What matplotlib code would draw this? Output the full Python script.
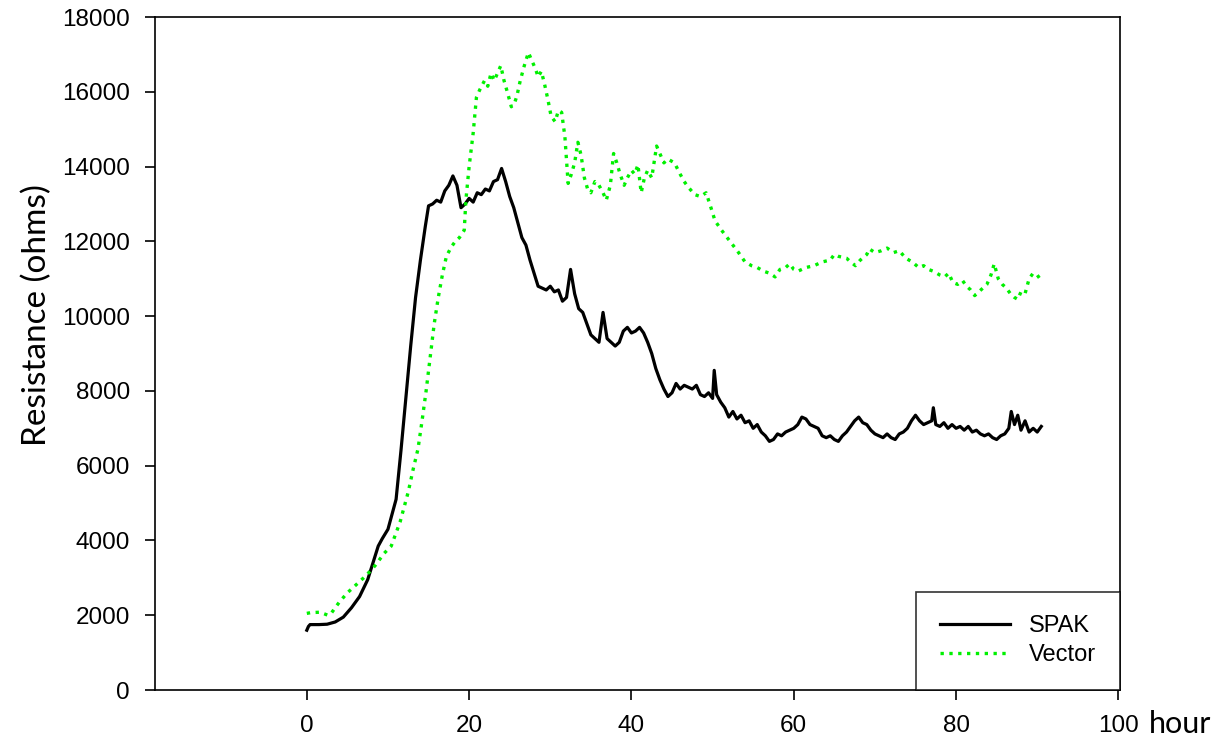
#!/usr/bin/env python3

import numpy as np
import matplotlib
matplotlib.use('Agg')
import matplotlib.pyplot as plt

# values (hour, ohms)
spak_hours = [0.0, 0.2, 0.4, 1.5, 2.5, 3.5, 4.5, 5.5, 6.5, 7.5, 8.0, 8.8, 9.3, 10.0, 10.5,
              11.0, 11.6, 12.2, 12.8, 13.4, 14.0, 14.6, 15.0, 15.5, 16.0, 16.5, 17.0, 17.5,
              18.0, 18.5, 19.0, 19.5, 20.0, 20.5, 21.0, 21.5, 22.0, 22.5, 23.0, 23.5, 24.0,
              24.5, 25.0, 25.5, 26.0, 26.5, 27.0, 27.5, 28.0, 28.5, 29.0, 29.5, 30.0, 30.5,
              31.0, 31.5, 32.0, 32.5, 33.0, 33.5, 34.0, 34.5, 35.0, 35.5, 36.0, 36.5, 37.0,
              37.5, 38.0, 38.5, 39.0, 39.5, 40.0, 40.5, 41.0, 41.5, 42.0, 42.5, 43.0, 43.5,
              44.0, 44.5, 45.0, 45.5, 46.0, 46.5, 47.0, 47.5, 48.0, 48.5, 49.0, 49.5, 50.0,
              50.2, 50.5, 51.0, 51.5, 52.0, 52.5, 53.0, 53.5, 54.0, 54.5, 55.0, 55.5, 56.0,
              56.5, 57.0, 57.5, 58.0, 58.5, 59.0, 59.5, 60.0, 60.5, 61.0, 61.5, 62.0, 62.5,
              63.0, 63.5, 64.0, 64.5, 65.0, 65.5, 66.0, 66.5, 67.0, 67.5, 68.0, 68.5, 69.0,
              69.5, 70.0, 70.5, 71.0, 71.5, 72.0, 72.5, 73.0, 73.5, 74.0, 74.5, 75.0, 75.5,
              76.0, 76.5, 77.0, 77.2, 77.5, 78.0, 78.5, 79.0, 79.5, 80.0, 80.5, 81.0, 81.5,
              82.0, 82.5, 83.0, 83.5, 84.0, 84.5, 85.0, 85.5, 86.0, 86.5, 86.8, 87.2, 87.6,
              88.0, 88.5, 89.0, 89.5, 90.0, 90.5]
spak_ohms = [1600, 1700, 1750, 1750, 1760, 1820, 1950, 2200, 2500, 2950, 3300, 3850, 4050, 4300, 4700,
             5100, 6400, 7800, 9200, 10500, 11500, 12400, 12950, 13000, 13100, 13050, 13350, 13500,
             13750, 13500, 12900, 13000, 13150, 13050, 13300, 13250, 13400, 13350, 13600, 13650, 13950,
             13600, 13200, 12900, 12500, 12100, 11900, 11500, 11150, 10800, 10750, 10700, 10800, 10650,
             10700, 10400, 10500, 11250, 10600, 10200, 10100, 9800, 9500, 9400, 9300, 10100, 9400,
             9300, 9200, 9300, 9600, 9700, 9550, 9600, 9700, 9550, 9300, 9000, 8600, 8300,
             8050, 7850, 7950, 8200, 8050, 8150, 8100, 8050, 8150, 7900, 7850, 7950, 7800,
             8550, 7900, 7700, 7550, 7300, 7450, 7250, 7350, 7150, 7200, 7000, 7100, 6900,
             6800, 6650, 6700, 6850, 6800, 6900, 6950, 7000, 7100, 7300, 7250, 7100, 7050,
             7000, 6800, 6750, 6800, 6700, 6650, 6800, 6900, 7050, 7200, 7300, 7150, 7100,
             6950, 6850, 6800, 6750, 6850, 6750, 6700, 6850, 6900, 7000, 7200, 7350, 7200,
             7100, 7150, 7200, 7550, 7100, 7050, 7150, 7000, 7100, 7000, 7050, 6950, 7050,
             6900, 6950, 6850, 6800, 6850, 6750, 6700, 6800, 6850, 7000, 7450, 7100, 7350,
             6950, 7200, 6900, 7000, 6900, 7050]

vector_hours = [0.0, 0.5, 1.5, 2.0, 2.6, 3.0, 3.5, 4.0, 5.0, 6.0, 7.0, 7.9, 8.5, 9.0, 9.5,
                10.4, 11.0, 11.5, 12.0, 12.5, 13.1, 13.7, 14.2, 14.7, 15.2, 15.7, 16.2, 16.7,
                17.2, 17.8, 18.3, 18.8, 19.4, 19.6, 20.0, 20.5, 20.9, 21.3, 21.9, 22.3, 22.7,
                23.1, 23.5, 23.9, 24.3, 24.7, 25.2, 25.6, 25.9, 26.3, 26.8, 27.3, 27.8, 28.2,
                28.5, 28.9, 29.3, 29.7, 30.1, 30.6, 31.0, 31.4, 31.8, 32.2, 32.6, 33.0, 33.4,
                33.8, 34.2, 34.6, 35.0, 35.5, 36.0, 36.5, 36.9, 37.4, 37.8, 38.2, 38.6, 39.1,
                39.5, 40.0, 40.4, 40.8, 41.2, 41.6, 42.0, 42.5, 43.1, 43.5, 44.0, 44.5, 45.3,
                46.0, 46.5, 47.0, 47.8, 48.5, 49.2, 49.5, 49.8, 50.3, 51.1, 51.8, 52.5, 53.2,
                54.0, 54.8, 55.5, 56.3, 57.0, 57.7, 58.3, 59.0, 59.5, 60.0, 60.5, 61.5, 62.5,
                63.5, 64.5, 65.0, 65.5, 66.5, 67.0, 67.6, 68.2, 69.0, 69.3, 70.0, 70.8, 71.5,
                72.3, 73.0, 73.8, 74.6, 75.4, 76.0, 76.6, 77.2, 78.0, 78.6, 79.1, 79.6, 80.2,
                80.8, 81.3, 81.8, 82.3, 82.8, 83.3, 83.8, 84.3, 84.7, 85.2, 85.7, 86.2, 86.7,
                87.2, 87.6, 88.0, 88.5, 89.0, 89.5, 90.0, 90.5]
vector_ohms = [2050, 2070, 2080, 2050, 2000, 2050, 2200, 2350, 2600, 2800, 3000, 3200, 3350, 3500, 3650,
               3850, 4200, 4500, 4900, 5300, 5900, 6450, 7200, 8000, 8900, 9800, 10500, 11100,
               11600, 11850, 12000, 12100, 12300, 13100, 14000, 14900, 15850, 16050, 16300, 16150, 16500,
               16300, 16500, 16700, 16300, 16000, 15600, 15700, 15900, 16300, 16700, 17050, 16800, 16600,
               16400, 16550, 16200, 15800, 15350, 15200, 15500, 15450, 14800, 13550, 13800, 14100, 14650,
               14300, 13700, 13400, 13300, 13600, 13500, 13300, 13100, 13500, 14350, 14100, 13800, 13500,
               13700, 13900, 13800, 14050, 13300, 13700, 13900, 13700, 14550, 14350, 14100, 14200, 14100,
               13800, 13600, 13450, 13250, 13200, 13300, 13100, 12900, 12550, 12300, 12100, 11900, 11700,
               11450, 11350, 11300, 11200, 11150, 11050, 11250, 11300, 11400, 11250, 11200, 11300, 11350,
               11450, 11500, 11650, 11600, 11550, 11450, 11350, 11500, 11650, 11800, 11700, 11750, 11820,
               11700, 11750, 11550, 11450, 11300, 11350, 11250, 11200, 11100, 11050, 11150, 10900, 10850,
               10950, 10800, 10700, 10550, 10650, 10750, 10850, 11100, 11400, 11000, 10850, 10750, 10600,
               10500, 10450, 10650, 10600, 11000, 11150, 11100, 10950]

x_ticks = [0, 20, 40, 60, 80, 100]
y_ticks = [0, 2000, 4000, 6000, 8000, 10000, 12000, 14000, 16000, 18000]

plt.rcParams['font.family'] = ['Liberation Sans', 'DejaVu Sans']

fig = plt.figure(figsize=(12.17, 7.41), dpi=100)
ax = fig.add_axes([0.1274, 0.0688, 0.7929, 0.9082])

ax.plot(spak_hours, spak_ohms, color='black', linewidth=2.3, label='SPAK')
ax.plot(vector_hours, vector_ohms, color='#00f000', linestyle=':', linewidth=2.4, label='Vector')

ax.set_xlim(-18.7, 100.2)
ax.set_ylim(0, 18000)
ax.set_xticks(x_ticks)
ax.set_yticks(y_ticks)
ax.tick_params(direction='out', length=7, width=1.2, labelsize=17.5, pad=11)
for s in ax.spines.values():
    s.set_linewidth(1.2)

ax.set_ylabel('Resistance (ohms)', fontsize=24, family=['Lato', 'DejaVu Sans'])
ax.yaxis.set_label_coords(-0.107, 0.557)
ax.text(1.03, -0.05, 'hour', transform=ax.transAxes, fontsize=22,
        family=['Lato', 'DejaVu Sans'], ha='left', va='center')

leg = ax.legend(loc='lower right', fontsize=17, frameon=True, fancybox=False,
                borderaxespad=0, handlelength=3.0, borderpad=1.0, labelspacing=0.3)
leg.get_frame().set_edgecolor('black')
leg.get_frame().set_linewidth(1.2)

plt.savefig('out.png', dpi=100)
